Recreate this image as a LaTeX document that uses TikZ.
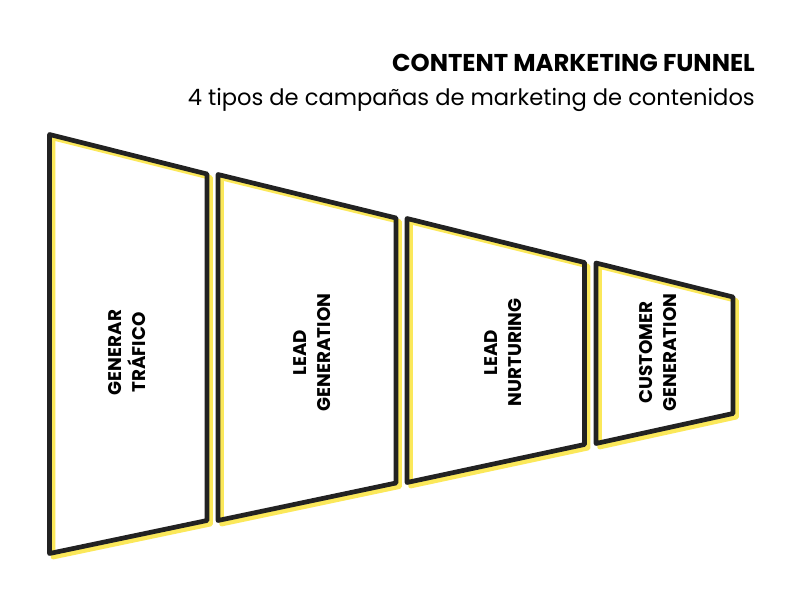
\documentclass[tikz,border=0pt]{standalone}
\usepackage{fontspec}
\setmainfont{Poppins}
\begin{document}
\begin{tikzpicture}[x=1bp,y=-1bp,
  funnelback/.style={draw=funnelyellow,line width=4.6bp,line join=round,transform canvas={shift={(3.6,3.6)}}},
  funnelline/.style={draw=funnelblack,line width=4.7bp,line join=round},
  stagelabel/.style={rotate=90,align=center,font=\bfseries\fontsize{18.4}{23.5}\selectfont,text=black,inner sep=0pt},
  titletext/.style={anchor=base east,inner sep=0pt,text=black}]
\definecolor{funnelyellow}{HTML}{FBE85A}
\definecolor{funnelblack}{HTML}{222222}
\useasboundingbox (0,0) rectangle (804,607);
\fill[white] (0,0) rectangle (804,607);
\coordinate (a1) at (49.5,134.5); \coordinate (a2) at (207,174); \coordinate (a3) at (207,520.5); \coordinate (a4) at (49.5,553.5);
\coordinate (b1) at (218,174.5); \coordinate (b2) at (396,218); \coordinate (b3) at (396,483); \coordinate (b4) at (218,520.5);
\coordinate (c1) at (407,218.5); \coordinate (c2) at (584.5,262.5); \coordinate (c3) at (584.5,444.5); \coordinate (c4) at (407,482.5);
\coordinate (d1) at (596,263); \coordinate (d2) at (733,297); \coordinate (d3) at (733,413.5); \coordinate (d4) at (596,443.5);
\foreach \p in {a,b,c,d}{
  \draw[funnelback] (\p1) -- (\p2) -- (\p3) -- (\p4) -- cycle;
}
\foreach \p in {a,b,c,d}{
  \draw[funnelline] (\p1) -- (\p2) -- (\p3) -- (\p4) -- cycle;
}
\node[stagelabel] (generar) at (127,352.5) {GENERAR\\TRÁFICO};
\node[stagelabel] (leadgen) at (312,352.5) {LEAD\\GENERATION};
\node[stagelabel] (leadnur) at (503,352.5) {LEAD\\NURTURING};
\node[stagelabel] (custgen) at (658,352.5) {CUSTOMER\\GENERATION};
\node[titletext,font=\bfseries\fontsize{24.4}{28}\selectfont] (title) at (755,72) {CONTENT MARKETING FUNNEL};
\node[titletext,font=\fontsize{22.7}{28}\selectfont] (subtitle) at (755,105.5) {4 tipos de campañas de marketing de contenidos};
\end{tikzpicture}
\end{document}
